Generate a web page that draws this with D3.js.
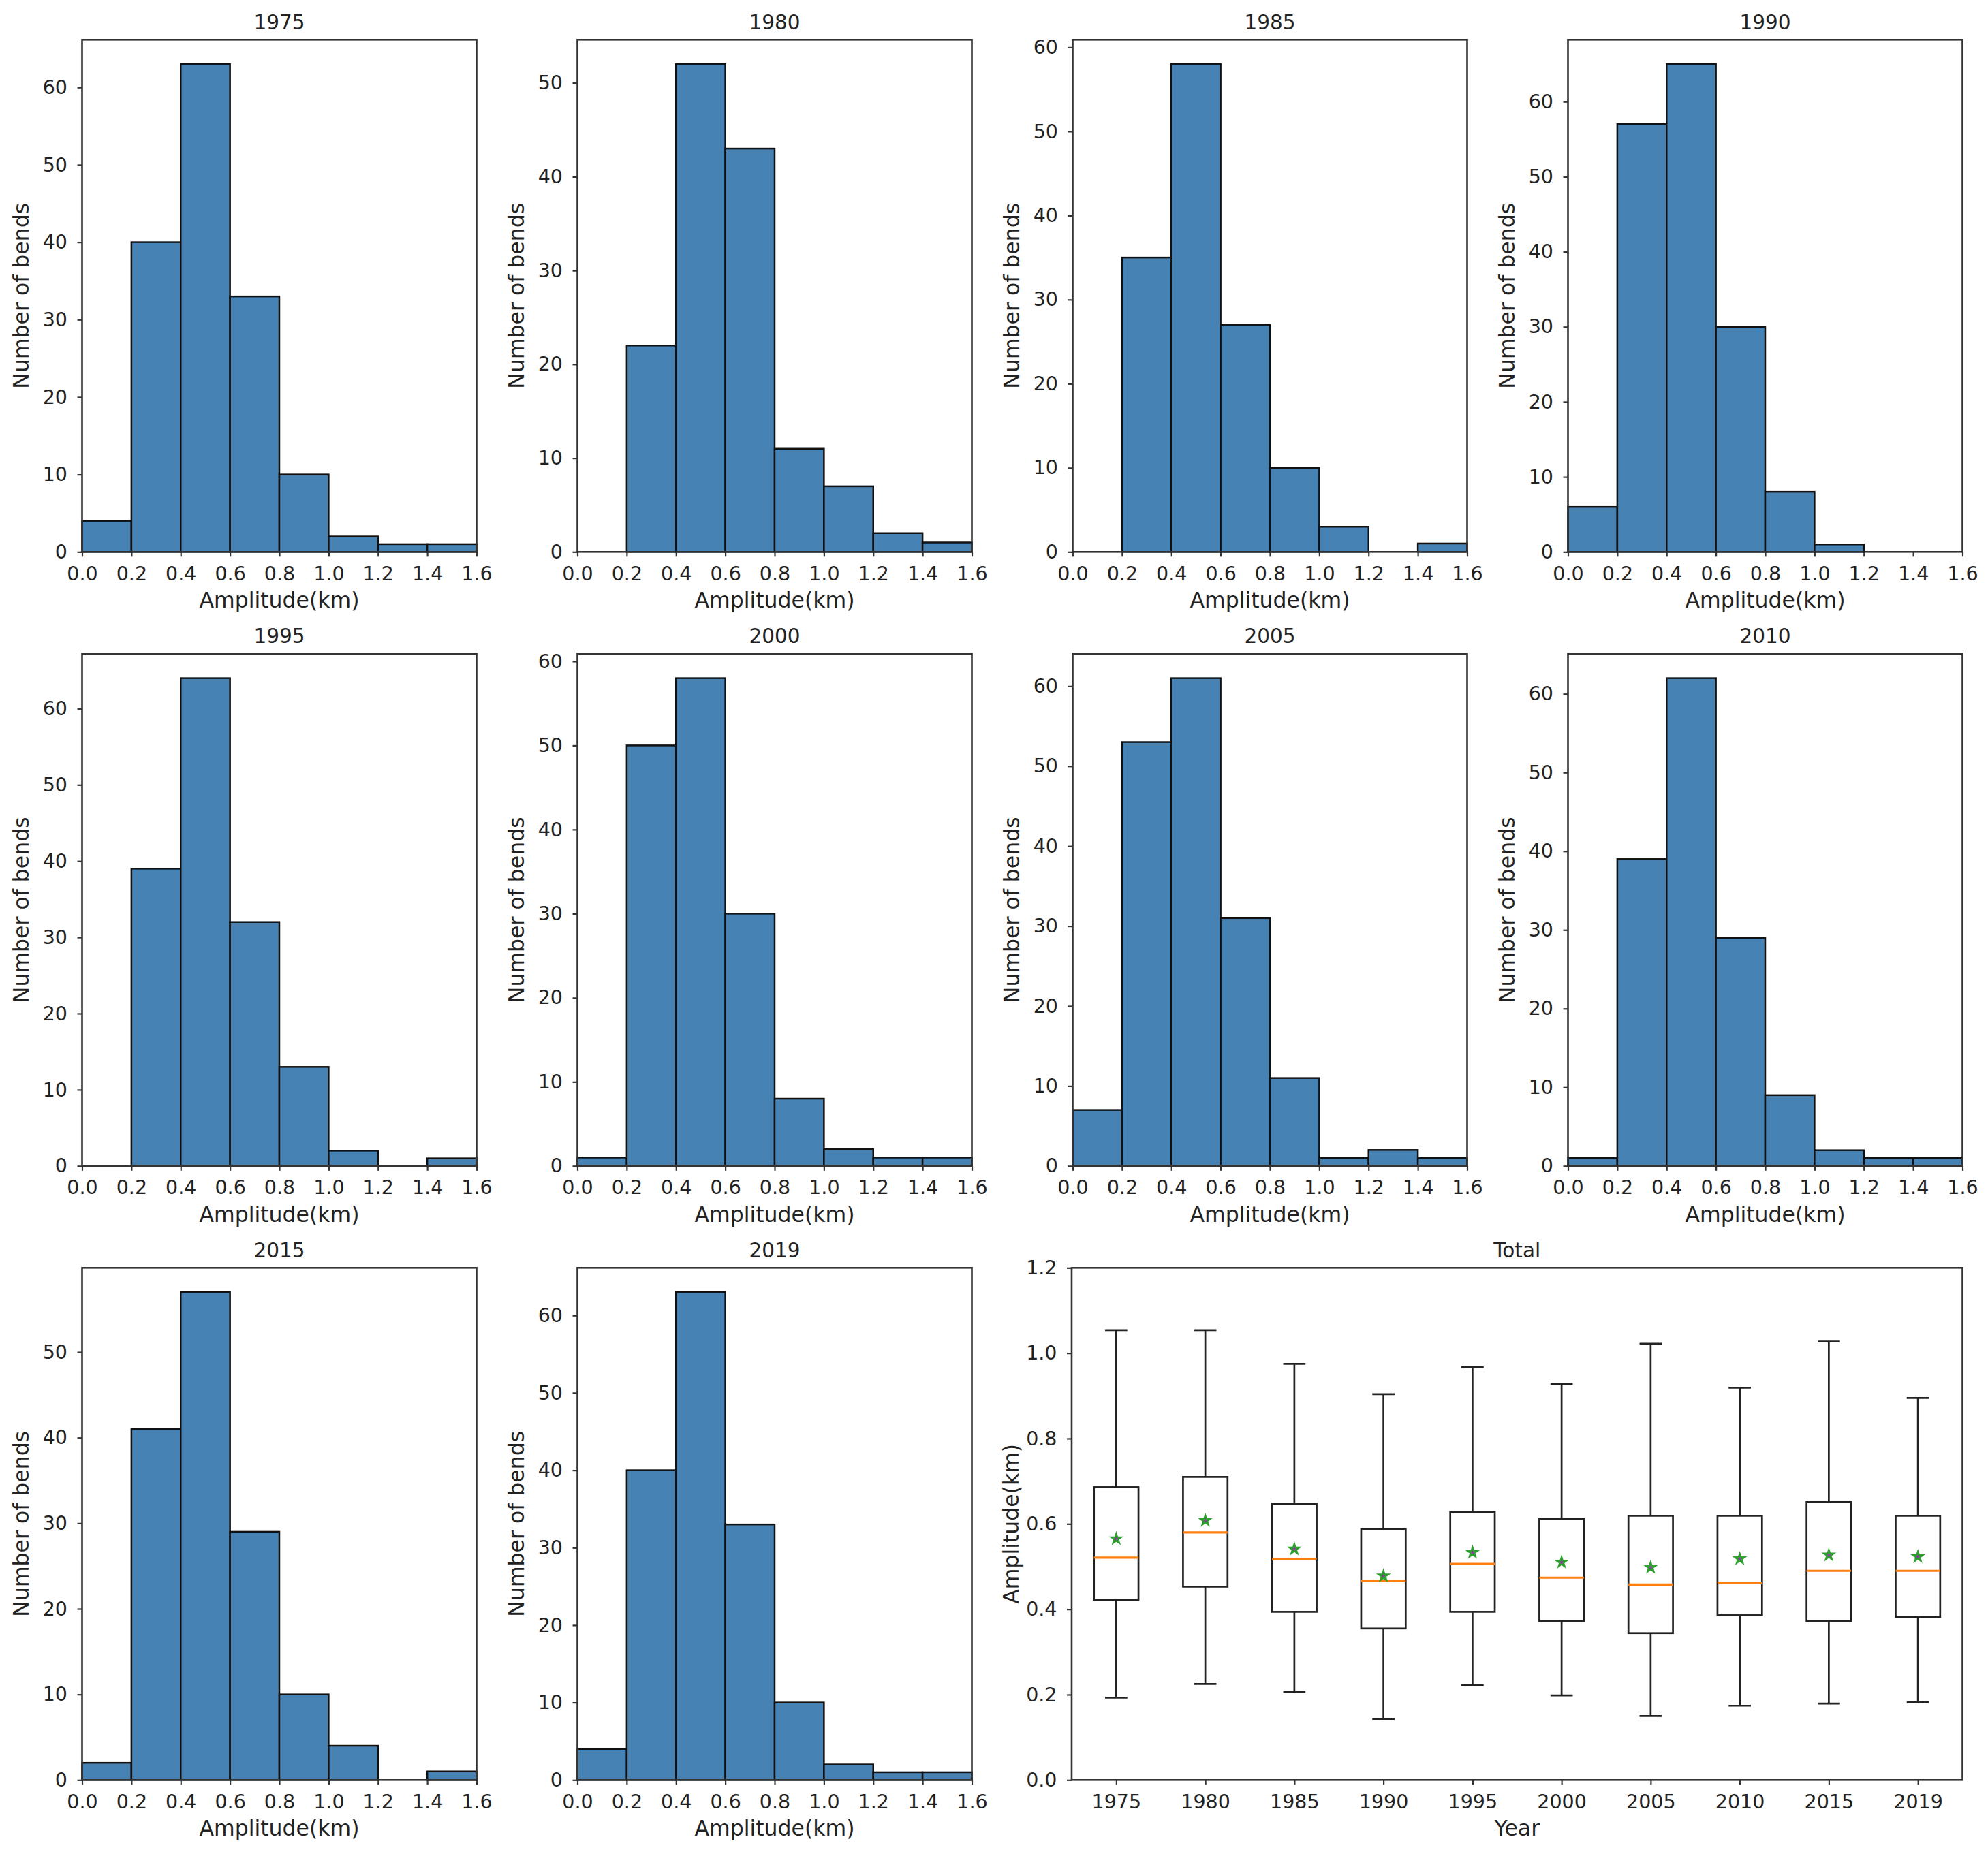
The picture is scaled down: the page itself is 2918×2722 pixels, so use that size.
<!DOCTYPE html>
<html>
<head>
<meta charset="utf-8">
<script src="https://cdn.jsdelivr.net/npm/d3@7"></script>
<style>
  body { margin: 0; background: #fff; }
  svg text { font-family: "DejaVu Sans", sans-serif; fill: #222; }
</style>
</head>
<body>
<svg id="fig" width="2918" height="2722"></svg>
<script>
// Histogram bins (km)
const binEdges = [0, 0.2, 0.4, 0.6, 0.8, 1.0, 1.2, 1.4, 1.6];
const histYears = ['1975', '1980', '1985', '1990', '1995', '2000', '2005', '2010', '2015', '2019'];

// Number of bends per bin
const counts1975 = [4, 40, 63, 33, 10, 2, 1, 1];
const counts1980 = [0, 22, 52, 43, 11, 7, 2, 1];
const counts1985 = [0, 35, 58, 27, 10, 3, 0, 1];
const counts1990 = [6, 57, 65, 30, 8, 1, 0, 0];
const counts1995 = [0, 39, 64, 32, 13, 2, 0, 1];
const counts2000 = [1, 50, 58, 30, 8, 2, 1, 1];
const counts2005 = [7, 53, 61, 31, 11, 1, 2, 1];
const counts2010 = [1, 39, 62, 29, 9, 2, 1, 1];
const counts2015 = [2, 41, 57, 29, 10, 4, 0, 1];
const counts2019 = [4, 40, 63, 33, 10, 2, 1, 1];
const histCounts = [counts1975, counts1980, counts1985, counts1990, counts1995,
  counts2000, counts2005, counts2010, counts2015, counts2019];

// Box plot statistics for the "Total" panel (km)
const boxYears = ['1975', '1980', '1985', '1990', '1995', '2000', '2005', '2010', '2015', '2019'];
const whiskerLow = [0.193, 0.225, 0.206, 0.143, 0.222, 0.198, 0.150, 0.174, 0.179, 0.182];
const quartile1 = [0.422, 0.453, 0.394, 0.355, 0.394, 0.372, 0.344, 0.386, 0.372, 0.382];
const medians = [0.521, 0.580, 0.517, 0.466, 0.506, 0.474, 0.458, 0.461, 0.490, 0.490];
const quartile3 = [0.686, 0.710, 0.647, 0.588, 0.628, 0.612, 0.619, 0.619, 0.651, 0.619];
const whiskerHigh = [1.054, 1.054, 0.975, 0.904, 0.967, 0.928, 1.022, 0.919, 1.027, 0.895];
const means = [0.565, 0.608, 0.541, 0.478, 0.533, 0.510, 0.498, 0.518, 0.527, 0.523];

const W = 579;
const H = 752;
const colX = i => 120.5 + i * 727;
const rowY = j => 58.3 + j * 901.5;
const FS = 28.5;      // tick labels
const FS_TITLE = 29.5;
const FS_LABEL = 31.5; // axis labels

const svg = d3.select('#fig');

function styleAxis (g) {
  g.attr('font-size', FS).attr('font-family', '"DejaVu Sans", sans-serif');
  g.select('.domain').remove();
  g.selectAll('.tick line').attr('stroke', '#333').attr('stroke-width', 2.2);
  g.selectAll('.tick text').attr('fill', '#222');
}

function frame (g, w) {
  g.append('rect')
    .attr('width', w)
    .attr('height', H)
    .attr('fill', 'none')
    .attr('stroke', '#333')
    .attr('stroke-width', 2.6);
}

function labels (g, w, title, xLabel, yLabel) {
  g.append('text')
    .attr('x', w / 2)
    .attr('y', -15.6)
    .attr('text-anchor', 'middle')
    .attr('font-size', FS_TITLE)
    .text(title);
  g.append('text')
    .attr('x', w / 2)
    .attr('y', H + 82)
    .attr('text-anchor', 'middle')
    .attr('font-size', FS_LABEL)
    .text(xLabel);
  g.append('text')
    .attr('transform', `translate(-78.5,${H / 2}) rotate(-90)`)
    .attr('text-anchor', 'middle')
    .attr('font-size', FS_LABEL)
    .text(yLabel);
}

function drawHist (idx) {
  const counts = histCounts[idx];
  const g = svg.append('g')
    .attr('transform', `translate(${colX(idx % 4)},${rowY(Math.floor(idx / 4))})`);

  const x = d3.scaleLinear().domain([0, 1.6]).range([0, W]);
  const yMax = d3.max(counts) * 1.05;
  const y = d3.scaleLinear().domain([0, yMax]).range([H, 0]);

  g.selectAll('.bar')
    .data(counts)
    .enter()
    .append('rect')
    .attr('class', 'bar')
    .attr('x', (d, i) => x(binEdges[i]))
    .attr('width', (d, i) => x(binEdges[i + 1]) - x(binEdges[i]))
    .attr('y', d => y(d))
    .attr('height', d => H - y(d))
    .attr('fill', '#4682b4')
    .attr('stroke', '#111')
    .attr('stroke-width', 2.5);

  g.append('g')
    .attr('transform', `translate(0,${H})`)
    .call(d3.axisBottom(x).tickValues(binEdges).tickFormat(d3.format('.1f')).tickSize(7).tickPadding(14))
    .call(styleAxis);

  g.append('g')
    .call(d3.axisLeft(y).tickValues(d3.range(0, yMax, 10)).tickSize(7).tickPadding(14.5))
    .call(styleAxis);

  frame(g, W);
  labels(g, W, histYears[idx], 'Amplitude(km)', 'Number of bends');
}

histYears.forEach((yr, i) => drawHist(i));

// Total panel spans the last two columns of the bottom row
const TX = 1573;
const TW = 2880.5 - TX;
const gt = svg.append('g').attr('transform', `translate(${TX},${rowY(2)})`);
const xb = d3.scaleLinear().domain([0.5, boxYears.length + 0.5]).range([0, TW]);
const yb = d3.scaleLinear().domain([0, 1.2]).range([H, 0]);

const boxes = gt.selectAll('.box')
  .data(boxYears)
  .enter()
  .append('g')
  .attr('class', 'box');

boxes.append('line')
  .attr('x1', (d, i) => xb(i + 1)).attr('x2', (d, i) => xb(i + 1))
  .attr('y1', (d, i) => yb(quartile1[i])).attr('y2', (d, i) => yb(whiskerLow[i]));
boxes.append('line')
  .attr('x1', (d, i) => xb(i + 1)).attr('x2', (d, i) => xb(i + 1))
  .attr('y1', (d, i) => yb(quartile3[i])).attr('y2', (d, i) => yb(whiskerHigh[i]));
// caps
boxes.append('line')
  .attr('x1', (d, i) => xb(i + 1 - 0.125)).attr('x2', (d, i) => xb(i + 1 + 0.125))
  .attr('y1', (d, i) => yb(whiskerLow[i])).attr('y2', (d, i) => yb(whiskerLow[i]));
boxes.append('line')
  .attr('x1', (d, i) => xb(i + 1 - 0.125)).attr('x2', (d, i) => xb(i + 1 + 0.125))
  .attr('y1', (d, i) => yb(whiskerHigh[i])).attr('y2', (d, i) => yb(whiskerHigh[i]));
boxes.append('rect')
  .attr('x', (d, i) => xb(i + 1 - 0.25))
  .attr('width', (d, i) => xb(i + 1.25) - xb(i + 0.75))
  .attr('y', (d, i) => yb(quartile3[i]))
  .attr('height', (d, i) => yb(quartile1[i]) - yb(quartile3[i]))
  .attr('fill', 'none');
boxes.selectAll('line, rect')
  .attr('stroke', '#222')
  .attr('stroke-width', 2.7);

boxes.append('line')
  .attr('x1', (d, i) => xb(i + 1 - 0.25)).attr('x2', (d, i) => xb(i + 1 + 0.25))
  .attr('y1', (d, i) => yb(medians[i])).attr('y2', (d, i) => yb(medians[i]))
  .attr('stroke', '#ff7f0e')
  .attr('stroke-width', 3.2);

// mean markers
boxes.append('path')
  .attr('transform', (d, i) => `translate(${xb(i + 1)},${yb(means[i])})`)
  .attr('d', d3.symbol(d3.symbolStar, 150))
  .attr('fill', '#2ca02c');
boxes.append('path')
  .attr('transform', (d, i) => `translate(${xb(i + 1)},${yb(means[i])})`)
  .attr('d', d3.symbol(d3.symbolStar, 14))
  .attr('fill', '#9b30b0');

gt.append('g')
  .attr('transform', `translate(0,${H})`)
  .call(d3.axisBottom(xb).tickValues(d3.range(1, boxYears.length + 1))
    .tickFormat(d => boxYears[d - 1]).tickSize(7).tickPadding(14))
  .call(styleAxis);

gt.append('g')
  .call(d3.axisLeft(yb).tickValues(d3.range(0, 1.21, 0.2)).tickFormat(d3.format('.1f')).tickSize(7).tickPadding(14.5))
  .call(styleAxis);

frame(gt, TW);
labels(gt, TW, 'Total', 'Year', 'Amplitude(km)');
</script>
</body>
</html>
